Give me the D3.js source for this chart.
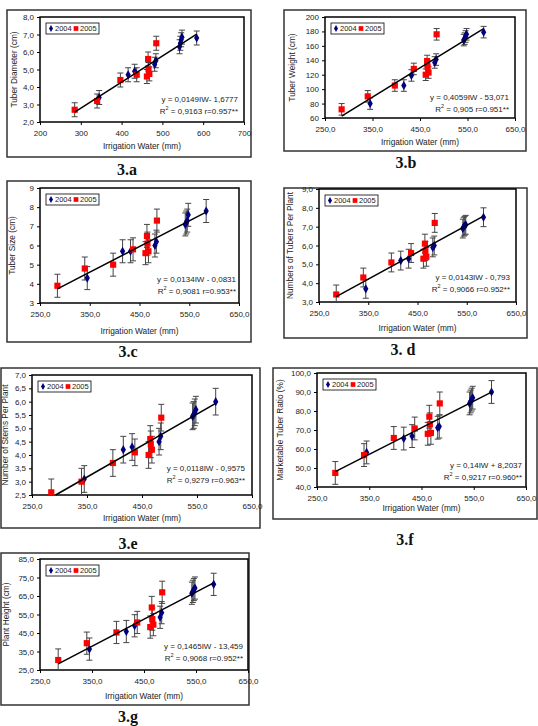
<!DOCTYPE html>
<html>
<head>
<meta charset="utf-8">
<script src="https://cdn.jsdelivr.net/npm/d3@7"></script>
<style>
  body { margin: 0; background: #fff; }
  svg { display: block; font-family: "Liberation Sans", Arial, sans-serif; }
</style>
</head>
<body>
<svg id="chart" width="538" height="726"></svg>
<script>
// irrigation water (mm) for each sampled plot, per year
const irrigation2004 = [345, 416, 432, 481, 484, 542, 544, 546, 548, 584];
const irrigation2005 = [285, 340, 397, 437, 462, 465, 466, 468, 485];

const diameter2004 = [3.4, 4.7, 4.9, 5.3, 5.5, 6.3, 6.5, 6.7, 6.85, 6.8];
const diameter2005 = [2.7, 3.2, 4.4, 4.7, 4.6, 5.6, 5.0, 4.75, 6.5];

const weight2004 = [80, 105, 119, 137, 141, 168, 170, 173, 176, 179];
const weight2005 = [72, 90, 105, 128, 120, 139, 131, 123, 176];

const size2004 = [4.3, 5.7, 5.7, 6.0, 6.2, 7.1, 7.2, 7.3, 7.6, 7.8];
const size2005 = [3.9, 4.8, 5.0, 5.8, 5.6, 6.5, 6.1, 5.7, 7.3];

const tubers2004 = [3.7, 5.2, 5.3, 5.9, 6.0, 6.9, 7.0, 7.05, 7.1, 7.5];
const tubers2005 = [3.4, 4.3, 5.1, 5.6, 5.3, 6.1, 5.7, 5.4, 7.2];

const stems2004 = [3.1, 4.2, 4.3, 4.5, 4.7, 5.45, 5.5, 5.6, 5.7, 6.0];
const stems2005 = [2.6, 3.0, 3.7, 4.1, 4.0, 4.6, 4.4, 4.2, 5.4];

const marketable2004 = [58.2, 65.5, 66.8, 71.2, 71.8, 84, 85, 86, 87, 90];
const marketable2005 = [47.4, 56.8, 65.8, 70.8, 68, 77, 73, 68.5, 84];

const height2004 = [36.3, 45.8, 48.9, 53.5, 56, 66.5, 67.5, 68.5, 69.3, 71.3];
const height2005 = [30.4, 39.5, 45.3, 50.7, 48.2, 58.8, 52.5, 49.5, 67];

// error bar half widths
const errorBars = [0.4, 8, 0.6, 0.5, 0.5, 6, 6];

// regression fits [slope, intercept]
const fits = [[0.0149, -1.6777], [0.4059, -53.071], [0.0134, -0.0831], [0.0143, -0.793],
  [0.0118, -0.9575], [0.14, 8.2037], [0.1465, -13.459]];

const equations = ['y = 0,0149IW- 1,6777', 'y = 0,4059IW - 53,071', 'y = 0,0134IW - 0,0831',
  'y = 0,0143IW - 0,793', 'y = 0,0118IW - 0,9575', 'y = 0,14IW + 8,2037', 'y = 0,1465IW - 13,459'];
const rSquared = ['0,9163 r=0.957**', '0,905 r=0.951**', '0,9081 r=0.953**', '0,9066 r=0.952**',
  '0,9279 r=0.963**', '0,9217 r=0.960**', '0,9068 r=0.952**'];

const yTitles = ['Tuber Diameter (cm)', 'Tuber Weight (cm)', 'Tuber Size (cm)', 'Numbers of Tubers Per Plant',
  'Number of Stems Per Plant', 'Marketable Tuber Ratio (%)', 'Plant Height (cm)'];
const panelLabels = ['3.a', '3.b', '3.c', '3. d', '3.e', '3.f', '3.g'];

const xTicksA = [200, 300, 400, 500, 600, 700];
const xTicks = [250, 350, 450, 550, 650];
const yTicksA = [2, 3, 4, 5, 6, 7, 8];
const yTicksB = [60, 80, 100, 120, 140, 160, 180, 200];
const yTicksC = [3, 4, 5, 6, 7, 8, 9];
const yTicksD = [3, 4, 5, 6, 7, 8, 9];
const yTicksE = [2.5, 3, 3.5, 4, 4.5, 5, 5.5, 6, 6.5, 7];
const yTicksF = [40, 50, 60, 70, 80, 90, 100];
const yTicksG = [25, 35, 45, 55, 65, 75, 85];

const comma1 = d => d3.format('.1f')(d).replace('.', ',');
const plain = d => String(d);

const panels = [
  { box: [7, 10, 251, 157], plot: [40, 17, 244, 122], xt: xTicksA, xf: plain, yt: yTicksA, yf: comma1,
    b: diameter2004, r: diameter2005, ytx: 15, xty: 147, lab: [127, 171], eq: [238, 100] },
  { box: [284, 10, 526, 151], plot: [325, 17, 515, 118], xt: xTicks, xf: comma1, yt: yTicksB, yf: plain,
    b: weight2004, r: weight2005, ytx: 293, xty: 142.5, lab: [406, 164], eq: [509, 98] },
  { box: [7, 181, 251, 342], plot: [40, 188, 239, 303], xt: xTicks, xf: comma1, yt: yTicksC, yf: plain,
    b: size2004, r: size2005, ytx: 13, xty: 331.5, lab: [128, 353], eq: [236, 280] },
  { box: [284, 188, 527, 338], plot: [319, 189, 516, 302], xt: xTicks, xf: comma1, yt: yTicksD, yf: comma1,
    b: tubers2004, r: tubers2005, ytx: 291, xty: 329, lab: [403, 351], eq: [510, 278] },
  { box: [1, 368, 260, 528], plot: [32, 375, 252, 495], xt: xTicks, xf: comma1, yt: yTicksE, yf: comma1,
    b: stems2004, r: stems2005, ytx: 6, xty: 519, lab: [128, 545], eq: [245, 469] },
  { box: [273, 368, 537, 519], plot: [317, 373, 526, 487], xt: xTicks, xf: comma1, yt: yTicksF, yf: comma1,
    b: marketable2004, r: marketable2005, ytx: 281, xty: 509, lab: [405, 541], eq: [522, 466] },
  { box: [1, 553, 249, 705], plot: [40, 559, 248, 670], xt: xTicks, xf: comma1, yt: yTicksG, yf: comma1,
    b: height2004, r: height2005, ytx: 7, xty: 697, lab: [128, 718], eq: [243, 647] }
];

const svg = d3.select('#chart');

const drawPanel = (p, i) => {
  const g = svg.append('g');
  const [x0, y0, x1, y1] = p.plot;

  const x = d3.scaleLinear().domain(d3.extent(p.xt)).range([x0, x1]);
  const y = d3.scaleLinear().domain(d3.extent(p.yt)).range([y1, y0]);

  g.append('rect')
    .attr('x', p.box[0]).attr('y', p.box[1])
    .attr('width', p.box[2] - p.box[0]).attr('height', p.box[3] - p.box[1])
    .attr('fill', '#fff').attr('stroke', '#333').attr('stroke-width', 1.5);

  g.append('rect')
    .attr('x', x0).attr('y', y0).attr('width', x1 - x0).attr('height', y1 - y0)
    .attr('fill', '#fff').attr('stroke', '#000').attr('stroke-width', 1.5);

  const xAxis = g.append('g').attr('transform', `translate(0,${y1})`)
    .call(d3.axisBottom(x).tickValues(p.xt).tickFormat(p.xf).tickSize(3).tickSizeOuter(0));
  const yAxis = g.append('g').attr('transform', `translate(${x0},0)`)
    .call(d3.axisLeft(y).tickValues(p.yt).tickFormat(p.yf).tickSize(3).tickSizeOuter(0));
  [xAxis, yAxis].forEach(a => {
    a.select('.domain').remove();
    a.selectAll('line').attr('stroke', '#000');
    a.selectAll('text').attr('font-size', 8).attr('fill', '#222')
      .attr('font-family', '"Liberation Sans", Arial, sans-serif');
  });
  xAxis.selectAll('text').attr('dy', '0.95em');

  g.append('text')
    .attr('x', (x0 + x1) / 2).attr('y', p.xty)
    .attr('text-anchor', 'middle').attr('dominant-baseline', 'middle')
    .attr('font-size', 8.3).attr('fill', '#222').text('Irrigation Water (mm)');

  g.append('text')
    .attr('transform', `translate(${p.ytx},${(y0 + y1) / 2}) rotate(-90)`)
    .attr('text-anchor', 'middle').attr('dominant-baseline', 'middle')
    .attr('font-size', 8.3).attr('fill', '#222').text(yTitles[i]);

  const err = errorBars[i];
  const series = [
    { xs: irrigation2004, ys: p.b, color: '#000080', sym: d3.symbolDiamond, size: 24 },
    { xs: irrigation2005, ys: p.r, color: '#ff0000', sym: d3.symbolSquare, size: 38 }
  ];

  const clipY = v => Math.max(y0, Math.min(y1, y(v)));
  series.forEach(s => {
    const pts = s.xs.map((d, k) => ({ x: d, y: s.ys[k] }));
    const eb = g.append('g').attr('stroke', '#444').attr('stroke-width', 1);
    eb.selectAll('.v').data(pts).enter().append('line')
      .attr('x1', d => x(d.x)).attr('x2', d => x(d.x))
      .attr('y1', d => clipY(d.y - err)).attr('y2', d => clipY(d.y + err));
    eb.selectAll('.t').data(pts).enter().append('line')
      .attr('x1', d => x(d.x) - 3).attr('x2', d => x(d.x) + 3)
      .attr('y1', d => y(d.y + err)).attr('y2', d => y(d.y + err));
    eb.selectAll('.b').data(pts.filter(d => y(d.y - err) <= y1)).enter().append('line')
      .attr('x1', d => x(d.x) - 3).attr('x2', d => x(d.x) + 3)
      .attr('y1', d => y(d.y - err)).attr('y2', d => y(d.y - err));
  });

  series.forEach(s => {
    g.append('g').selectAll('path')
      .data(s.xs.map((d, k) => ({ x: d, y: s.ys[k] })))
      .enter().append('path')
      .attr('transform', d => `translate(${x(d.x)},${y(d.y)})`)
      .attr('d', d3.symbol().type(s.sym).size(s.size))
      .attr('fill', s.color);
  });

  // trendline, clipped to the plot area
  const [m, c] = fits[i];
  const allX = irrigation2004.concat(irrigation2005);
  let fx0 = d3.min(allX), fx1 = d3.max(allX);
  const yMin = d3.min(p.yt);
  if (m * fx0 + c < yMin) fx0 = (yMin - c) / m;
  g.append('line')
    .attr('x1', x(fx0)).attr('y1', y(m * fx0 + c))
    .attr('x2', x(fx1)).attr('y2', y(m * fx1 + c))
    .attr('stroke', '#000').attr('stroke-width', 1.5);

  const eq = g.append('g').attr('font-size', 8).attr('fill', '#222').attr('text-anchor', 'end');
  eq.append('text').attr('x', p.eq[0]).attr('y', p.eq[1]).attr('dominant-baseline', 'middle').text(equations[i]);
  const r2 = eq.append('text').attr('x', p.eq[0]).attr('y', p.eq[1] + 11.5).attr('dominant-baseline', 'middle');
  r2.append('tspan').text('R');
  r2.append('tspan').attr('font-size', 5.5).attr('dy', -3).text('2');
  r2.append('tspan').attr('dy', 3).text(' = ' + rSquared[i]);

  // legend
  const lg = g.append('g').attr('transform', `translate(${x0 + 6},${y0 + 6})`);
  lg.append('rect').attr('width', 53).attr('height', 11)
    .attr('fill', '#fff').attr('stroke', '#000').attr('stroke-width', 0.8);
  lg.append('path').attr('transform', 'translate(5,5.5)')
    .attr('d', d3.symbol().type(d3.symbolDiamond).size(14)).attr('fill', '#000080');
  lg.append('text').attr('x', 9).attr('y', 5.8).attr('dominant-baseline', 'middle')
    .attr('font-size', 7.5).attr('fill', '#222').text('2004');
  lg.append('path').attr('transform', 'translate(30,5.5)')
    .attr('d', d3.symbol().type(d3.symbolSquare).size(22)).attr('fill', '#ff0000');
  lg.append('text').attr('x', 34).attr('y', 5.8).attr('dominant-baseline', 'middle')
    .attr('font-size', 7.5).attr('fill', '#222').text('2005');

  svg.append('text')
    .attr('x', p.lab[0]).attr('y', p.lab[1])
    .attr('text-anchor', 'middle').attr('dominant-baseline', 'middle')
    .attr('font-family', '"Liberation Serif", "Times New Roman", serif')
    .attr('font-weight', 'bold').attr('font-size', 16).attr('fill', '#111')
    .text(panelLabels[i]);
};

panels.forEach(drawPanel);
</script>
</body>
</html>
